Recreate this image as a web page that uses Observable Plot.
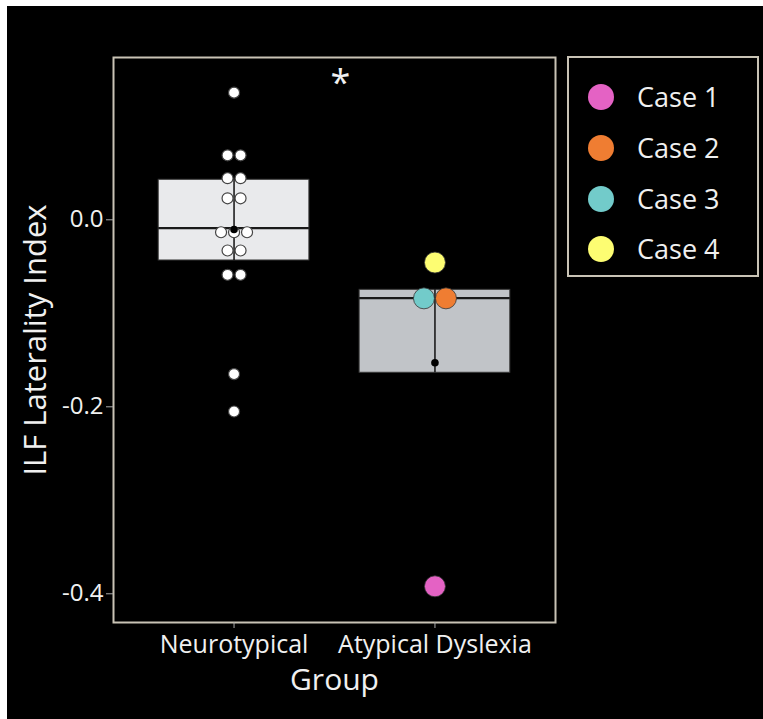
<!DOCTYPE html>
<html>
<head>
<meta charset="utf-8">
<script src="https://cdn.jsdelivr.net/npm/d3@7"></script>
<script src="https://cdn.jsdelivr.net/npm/@observablehq/plot@0.6"></script>
<style>
  html, body { margin: 0; padding: 0; background: #ffffff; }
  #wrap { position: relative; width: 763px; height: 719px; overflow: hidden; background: #ffffff; }
  #chart { position: absolute; left: 7px; top: 6px; }
  #legend { position: absolute; left: 567px; top: 56px; width: 188px; height: 217px;
            border: 2px solid #c9c3b5; background: #000; font-family: "Open Sans", sans-serif; }
  .item { position: absolute; left: 0; height: 30px; display: flex; align-items: center; }
  .sw { width: 26px; height: 26px; border-radius: 50%; margin-left: 19px; }
  .lab { color: #f0f0f0; font-size: 27px; margin-left: 23px; line-height: 30px; }
</style>
</head>
<body>
<div id="wrap">
  <div id="chart"></div>
  <div id="legend"></div>
</div>
<script>
// ---- data ----
const groups = ["Neurotypical", "Atypical Dyslexia"];
const neuroValues = [0.136, 0.069, 0.069, 0.0445, 0.0445, 0.023, 0.023,
  -0.0133, -0.0133, -0.0133, -0.0328, -0.0328, -0.0588, -0.0588, -0.165, -0.205];
const cases = ["Case 1", "Case 2", "Case 3", "Case 4"];
const caseValues = [-0.392, -0.084, -0.084, -0.0457];
const boxQ1 = [-0.0435, -0.1636];
const boxMedian = [-0.0090, -0.0838];
const boxQ3 = [0.0428, -0.0749];
const boxMean = [-0.0104, -0.1529];
const yTicks = [0, -0.2, -0.4];
const sigLabel = "*";
const sigValue = 0.161;

// ---- styles ----
const caseColors = ["#e462c4", "#ef7d32", "#72cbca", "#fdfd72"];
const boxFills = ["#e9eaec", "#c1c4c8"];
const W = 756, H = 713, ML = 106, MR = 208, MT = 51, MB = 97;
const xDomain = [0.4, 2.6];
const pxPerUnit = (W - ML - MR) / (xDomain[1] - xDomain[0]);

// dodge equal values side by side (centered stacks)
function dodge(values, spacingPx, reverse) {
  const byVal = d3.group(values.map((v, i) => i), i => values[i]);
  const off = new Array(values.length).fill(0);
  for (const [, idx] of byVal) {
    const ids = reverse ? idx.slice().reverse() : idx;
    ids.forEach((id, k) => { off[id] = (k - (ids.length - 1) / 2) * spacingPx / pxPerUnit; });
  }
  return off;
}
const neuroOff = dodge(neuroValues, 13, false);
const neuroData = neuroValues.map((v, i) => ({x: 1 + neuroOff[i], y: v}));
const caseOff = dodge(caseValues, 22, true);
const caseData = caseValues.map((v, i) => ({x: 2 + caseOff[i], y: v, c: cases[i]}));
const boxes = groups.map((g, i) => ({i: i + 1, q1: boxQ1[i], med: boxMedian[i], q3: boxQ3[i], mean: boxMean[i], fill: boxFills[i]}));

const chart = Plot.plot({
  width: W, height: H,
  marginLeft: ML, marginRight: MR, marginTop: MT, marginBottom: MB,
  style: {background: "#000", color: "#f0f0f0", fontFamily: "Open Sans, sans-serif"},
  x: {type: "linear", domain: xDomain},
  y: {domain: [-0.4307, 0.1736]},
  color: {domain: cases, range: caseColors},
  marks: [
    Plot.rect(boxes, {x1: d => d.i - 0.375, x2: d => d.i + 0.375, y1: "q1", y2: "q3",
      fill: "fill", stroke: "#3a3a3a", strokeWidth: 1}),
    Plot.ruleX(boxes, {x: "i", y1: "q1", y2: "q3", stroke: "#111", strokeWidth: 1.5}),
    Plot.ruleY(boxes, {x1: d => d.i - 0.375, x2: d => d.i + 0.375, y: "med", stroke: "#1a1a1a", strokeWidth: 2.2}),
    Plot.dot(neuroData, {x: "x", y: "y", r: 5.5, fill: "#ffffff", stroke: "#444", strokeWidth: 1.2}),
    Plot.dot(boxes, {x: "i", y: "mean", r: 3.8, fill: "#000", stroke: "none"}),
    Plot.dot(caseData, {x: "x", y: "y", r: 10.5, fill: "c", stroke: "#333", strokeWidth: 0.8}),
    Plot.text([sigLabel], {x: 1.5, y: sigValue, dx: 6, text: d => d, fontSize: 36, fill: "#f0f0f0", lineAnchor: "top"}),
    Plot.frame({stroke: "#c9c3b5", strokeWidth: 2}),
    Plot.axisY({ticks: yTicks, tickFormat: d => d.toFixed(1), fontSize: 24, fill: "#f0f0f0",
      stroke: "#aaa", tickSize: 7, tickPadding: 3, label: null}),
    Plot.axisX({ticks: [1, 2], tickFormat: d => groups[d - 1], fontSize: 25, fill: "#f0f0f0",
      stroke: "#aaa", tickSize: 6, tickPadding: 7, label: null}),
    Plot.text(["Group"], {frameAnchor: "bottom", dy: 58, text: d => d, fontSize: 30,
      fill: "#f0f0f0", lineAnchor: "middle"}),
    Plot.text(["ILF Laterality Index"], {frameAnchor: "left", dx: -77, rotate: -90, text: d => d,
      fontSize: 31, fill: "#f0f0f0", lineAnchor: "middle", textAnchor: "middle"})
  ]
});
document.getElementById("chart").appendChild(chart);

// legend
const legend = document.getElementById("legend");
cases.forEach((c, i) => {
  const item = document.createElement("div");
  item.className = "item";
  item.style.top = (24 + i * 50.8) + "px";
  const sw = document.createElement("div");
  sw.className = "sw";
  sw.style.background = caseColors[i];
  const lab = document.createElement("span");
  lab.className = "lab";
  lab.textContent = c;
  item.appendChild(sw); item.appendChild(lab);
  legend.appendChild(item);
});
</script>
</body>
</html>
